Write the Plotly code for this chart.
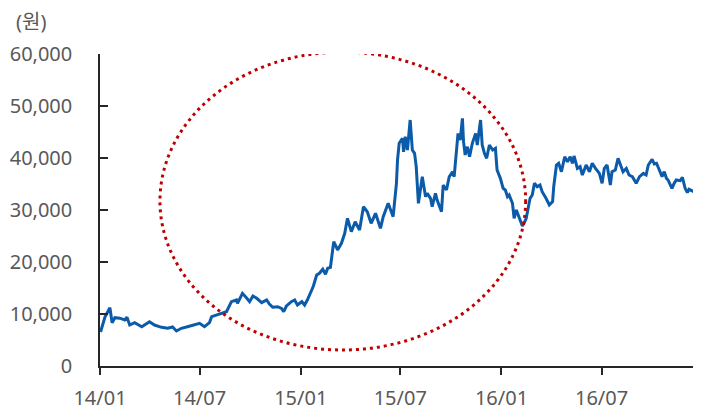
import plotly.graph_objects as go

dates = [
    "2014-01-02", "2014-01-10", "2014-01-19", "2014-01-23", "2014-01-28", "2014-02-06", "2014-02-15", "2014-02-19",
    "2014-02-24", "2014-03-05", "2014-03-18", "2014-03-23", "2014-04-01", "2014-04-10", "2014-04-23", "2014-05-04",
    "2014-05-13", "2014-05-20", "2014-05-29", "2014-06-09", "2014-06-22", "2014-07-01", "2014-07-10", "2014-07-19",
    "2014-07-23", "2014-08-01", "2014-08-10", "2014-08-19", "2014-08-28", "2014-09-06", "2014-09-08", "2014-09-17",
    "2014-09-25", "2014-09-30", "2014-10-06", "2014-10-13", "2014-10-22", "2014-10-31", "2014-11-05", "2014-11-11",
    "2014-11-20", "2014-11-27", "2014-12-01", "2014-12-06", "2014-12-15", "2014-12-21", "2014-12-26", "2015-01-03",
    "2015-01-08", "2015-01-13", "2015-01-21", "2015-01-24", "2015-01-30", "2015-02-04", "2015-02-10", "2015-02-15",
    "2015-02-19", "2015-02-24", "2015-03-02", "2015-03-09", "2015-03-16", "2015-03-22", "2015-03-27", "2015-04-03",
    "2015-04-10", "2015-04-18", "2015-04-25", "2015-05-02", "2015-05-09", "2015-05-17", "2015-05-26", "2015-05-31",
    "2015-06-09", "2015-06-15", "2015-06-18", "2015-06-24", "2015-06-26", "2015-06-29", "2015-07-05", "2015-07-07",
    "2015-07-10", "2015-07-14", "2015-07-19", "2015-07-23", "2015-07-27", "2015-07-30", "2015-08-03", "2015-08-10",
    "2015-08-16", "2015-08-19", "2015-08-25", "2015-08-28", "2015-09-03", "2015-09-06", "2015-09-14", "2015-09-17",
    "2015-09-23", "2015-09-28", "2015-10-04", "2015-10-07", "2015-10-11", "2015-10-14", "2015-10-18", "2015-10-22",
    "2015-10-24", "2015-10-27", "2015-10-31", "2015-11-04", "2015-11-09", "2015-11-15", "2015-11-18", "2015-11-24",
    "2015-11-27", "2015-12-01", "2015-12-05", "2015-12-10", "2015-12-16", "2015-12-21", "2015-12-24", "2015-12-30",
    "2016-01-04", "2016-01-08", "2016-01-12", "2016-01-15", "2016-01-21", "2016-01-24", "2016-01-28", "2016-02-02",
    "2016-02-08", "2016-02-11", "2016-02-15", "2016-02-22", "2016-02-26", "2016-03-01", "2016-03-06", "2016-03-11",
    "2016-03-15", "2016-03-22", "2016-03-28", "2016-04-03", "2016-04-05", "2016-04-10", "2016-04-14", "2016-04-19",
    "2016-04-25", "2016-04-30", "2016-05-05", "2016-05-09", "2016-05-12", "2016-05-18", "2016-05-23", "2016-05-27",
    "2016-06-03", "2016-06-09", "2016-06-14", "2016-06-20", "2016-06-27", "2016-07-02", "2016-07-06", "2016-07-11",
    "2016-07-17", "2016-07-20", "2016-07-26", "2016-07-31", "2016-08-06", "2016-08-09", "2016-08-15", "2016-08-20",
    "2016-08-26", "2016-09-02", "2016-09-08", "2016-09-15", "2016-09-20", "2016-09-24", "2016-10-01", "2016-10-05",
    "2016-10-09", "2016-10-14", "2016-10-19", "2016-10-23", "2016-10-27", "2016-10-30", "2016-11-06", "2016-11-10",
    "2016-11-14", "2016-11-21", "2016-11-25", "2016-11-30", "2016-12-04", "2016-12-07", "2016-12-13", "2016-12-16",
    "2016-12-20",
]

prices = [
    6540, 9400, 11200, 8330, 9290, 9200, 8850, 9400,
    7880, 8330, 7560, 7880, 8520, 7880, 7440, 7250,
    7500, 6730, 7250, 7560, 8020, 8200, 7560, 8330,
    9480, 9800, 10130, 10440, 12370, 12690, 12050, 13980,
    13020, 12370, 13460, 13020, 12180, 12690, 11920, 11290,
    11400, 11090, 10440, 11540, 12370, 12690, 11730, 12370,
    11730, 12690, 14620, 15380, 17500, 17830, 18600, 17630,
    18790, 18980, 23900, 22310, 23590, 25520, 28400, 25830,
    27750, 26150, 30630, 29670, 27440, 29360, 26480, 28710,
    31290, 29670, 28710, 35130, 39620, 42830, 43790, 41200,
    44100, 41540, 47310, 41540, 40900, 38330, 31290, 36400,
    32560, 33210, 32250, 30630, 33210, 31920, 29670, 34810,
    33850, 36400, 37360, 36400, 41200, 44740, 43460, 47630,
    43140, 40580, 42170, 40250, 42830, 44740, 42500, 47310,
    42500, 40900, 39940, 42500, 41540, 41860, 37690, 36090,
    34170, 33850, 32560, 32880, 31290, 28400, 30000, 28400,
    26920, 27440, 28400, 32250, 32880, 35130, 34480, 34810,
    33520, 32250, 30960, 31600, 34480, 38650, 38980, 37360,
    40250, 39290, 40250, 38980, 40390, 38010, 38330, 36730,
    38650, 37360, 38980, 38010, 37040, 35130, 38010, 38650,
    34810, 37360, 37690, 39940, 38330, 37360, 38010, 36730,
    36410, 35130, 36410, 37040, 36730, 38650, 39750, 38840,
    38980, 37690, 36410, 37360, 36090, 35770, 34170, 35130,
    35770, 35640, 36280, 34170, 33330, 33980, 33710, 33520,
    34170,
]

tick_dates = ["2014-01-01", "2014-07-01", "2015-01-01", "2015-07-01", "2016-01-01", "2016-07-01"]
tick_labels = ["14/01", "14/07", "15/01", "15/07", "16/01", "16/07"]
y_ticks = [0, 10000, 20000, 30000, 40000, 50000, 60000]
y_labels = ["0", "10,000", "20,000", "30,000", "40,000", "50,000", "60,000"]

FONT = "Noto Sans, Noto Sans CJK KR, sans-serif"
GREY = "#595959"

fig = go.Figure()
fig.add_trace(go.Scatter(
    x=dates, y=prices, mode="lines",
    line=dict(color="#0B5BAA", width=3),
    hoverinfo="skip", showlegend=False,
))

# dotted ellipse highlighting the surge period
fig.add_shape(
    type="circle", xref="x", yref="y",
    x0="2014-04-20", x1="2016-02-14", y0=3080, y1=60380,
    line=dict(color="#C00000", width=3, dash="3px,4px"),
    layer="above",
)

fig.add_annotation(
    text="(원)", xref="paper", yref="paper",
    x=-0.141, y=1.104, xanchor="left", yanchor="middle",
    showarrow=False, borderpad=0,
    font=dict(family=FONT, size=20, color=GREY),
)

# page body has an 8px default margin, so the figure is sized/offset to compensate
fig.update_layout(
    width=693, height=402,
    margin=dict(l=92, r=1, t=46, b=44, autoexpand=False),
    paper_bgcolor="white", plot_bgcolor="white",
    font=dict(family=FONT, size=20, color=GREY),
    xaxis=dict(
        type="date", range=["2014-01-01", "2016-12-27"],
        tickmode="array", tickvals=tick_dates, ticktext=tick_labels,
        showgrid=False, zeroline=False, automargin=False,
        showline=True, linecolor="#262626", linewidth=1.5,
        ticks="outside", ticklen=7, tickwidth=1.5, tickcolor="#262626",
        tickfont=dict(family=FONT, size=20, color=GREY),
        ticklabelstandoff=6,
    ),
    yaxis=dict(
        range=[0, 60000],
        tickmode="array", tickvals=y_ticks, ticktext=y_labels,
        showgrid=False, zeroline=False, automargin=False,
        showline=True, linecolor="#262626", linewidth=1.5,
        ticks="inside", ticklen=8, tickwidth=1.5, tickcolor="#262626",
        tickfont=dict(family=FONT, size=20, color=GREY),
        ticklabelstandoff=22,
    ),
)

fig.write_html("out.html")
